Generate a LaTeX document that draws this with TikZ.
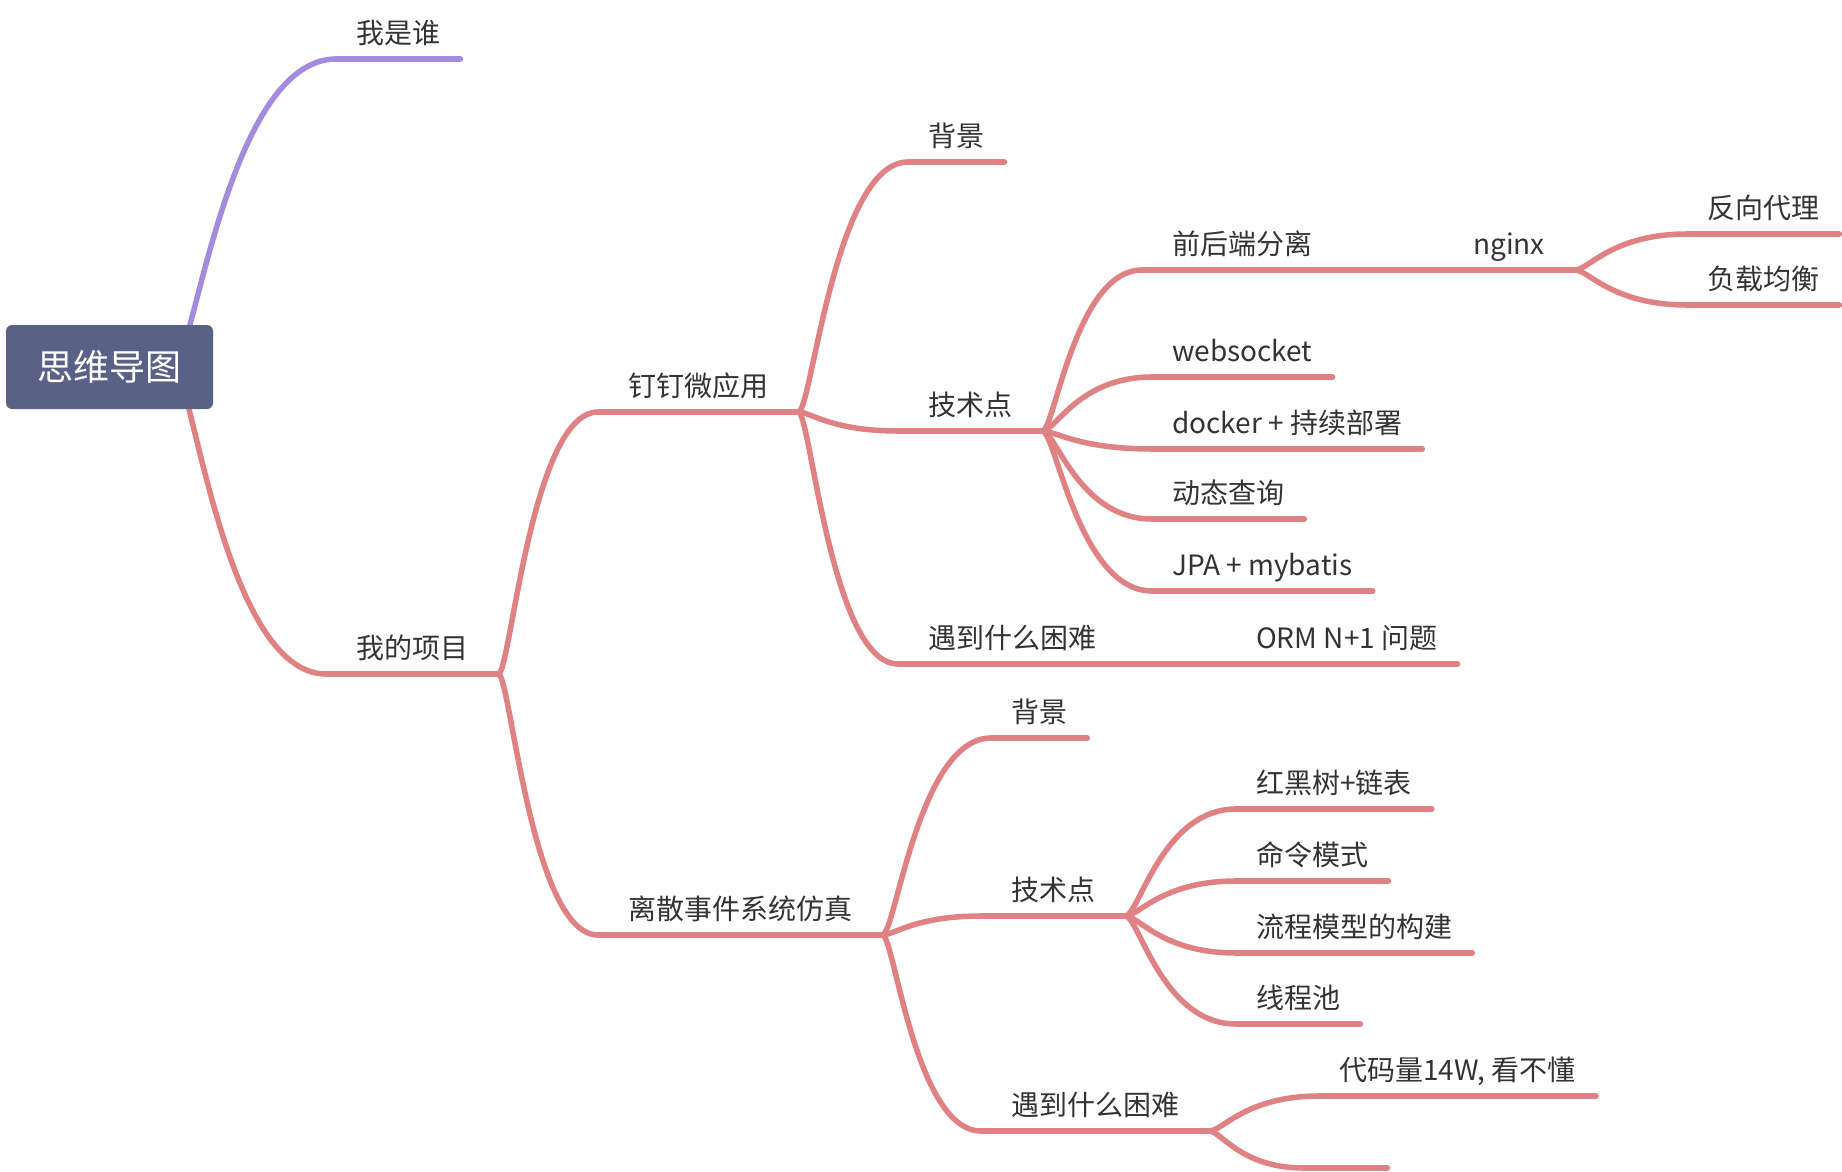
\documentclass[tikz,border=0pt]{standalone}
\usepackage{fontspec}
\setmainfont{Noto Sans CJK SC}
\usetikzlibrary{calc,backgrounds}
\definecolor{rootblue}{HTML}{5A6186}
\definecolor{twig}{HTML}{E08284}
\definecolor{lilac}{HTML}{A48BDD}
\definecolor{ink}{HTML}{333333}
\tikzset{
 rootbox/.style={rectangle,rounded corners=6pt,fill=rootblue,text=white,font=\fontsize{36}{40}\selectfont,minimum width=207pt,minimum height=84pt,inner sep=0},
 topic/.style={anchor=south west,text=ink,font=\fontsize{28}{32}\selectfont,inner ysep=10pt,text height=22pt,text depth=5pt},
 leaf/.style={topic,inner xsep=20pt},
 parent/.style={topic,inner xsep=30pt},
 twigline/.style={draw=twig,line width=5.5pt,line cap=round},
 lilacline/.style={draw=lilac,line width=5.5pt,line cap=round},
 branch/.style={to path={.. controls ($(\tikztostart)!.12!(\tikztostart-|\tikztotarget)$) and ($(\tikztostart|-\tikztotarget)!.33!(\tikztotarget)$) .. (\tikztotarget)}}
}

\begin{document}
\begin{tikzpicture}[x=1pt,y=-1pt]
\useasboundingbox (0,0) rectangle (1842,1172);
\node[rootbox] (root) at (109.5,367) {思维导图};
% both main branches leave from under the box
\coordinate (rmid) at ([xshift=-40pt]root.east);
% first level
\node[leaf] (who) at (336,59) {我是谁};
\node[parent] (proj) at (326,674) {我的项目};
\node[parent] (ding) at (598,412) {钉钉微应用};
\node[parent] (sim) at (598,935) {离散事件系统仿真};
% ding ding
\node[leaf] (dbg) at (908,162) {背景};
\node[parent] (dtech) at (898,431) {技术点};
\node[parent] (dhard) at (898,664) {遇到什么困难};
\node[leaf] (orm) at (1236,664) {ORM N+1 问题};
\node[parent] (sep) at (1142,270) {前后端分离};
\node[parent] (nginx) at (1443,270) {nginx};
\node[leaf] (proxy) at (1687,234) {反向代理};
\node[leaf] (lb) at (1687,305) {负载均衡};
\node[leaf] (ws) at (1152,377) {websocket};
\node[leaf] (docker) at (1152,449) {docker + 持续部署};
\node[leaf] (dyn) at (1152,519) {动态查询};
\node[leaf] (jpa) at (1152,591) {JPA + mybatis};
% simulation
\node[leaf] (sbg) at (991,738) {背景};
\node[parent] (stech) at (981,916) {技术点};
\node[parent] (shard) at (981,1131) {遇到什么困难};
\node[leaf] (rbt) at (1236,809) {红黑树+链表};
\node[leaf] (cmd) at (1236,881) {命令模式};
\node[leaf] (flow) at (1236,953) {流程模型的构建};
\node[leaf] (pool) at (1236,1024) {线程池};
\node[leaf] (code) at (1319,1096) {代码量14W, 看不懂};
\node[leaf,minimum width=83pt] (blank) at (1304,1168) {};
\begin{scope}[on background layer]
\draw[lilacline] (rmid) to[branch] (who.south west);
\draw[lilacline] (who.south west) -- (who.south east);
\draw[twigline] (rmid) to[branch] (proj.south west);
\foreach \n in {proj,ding,sim,dbg,dtech,dhard,orm,sep,nginx,proxy,lb,ws,docker,dyn,jpa,sbg,stech,shard,rbt,cmd,flow,pool,code,blank}
 \draw[twigline] (\n.south west) -- (\n.south east);
\foreach \a/\b in {proj/ding,proj/sim,ding/dbg,ding/dtech,ding/dhard,dhard/orm,dtech/sep,sep/nginx,nginx/proxy,nginx/lb,dtech/ws,dtech/docker,dtech/dyn,dtech/jpa,sim/sbg,sim/stech,sim/shard,stech/rbt,stech/cmd,stech/flow,stech/pool,shard/code,shard/blank}
 \draw[twigline] (\a.south east) to[branch] (\b.south west);
\end{scope}
\end{tikzpicture}
\end{document}
